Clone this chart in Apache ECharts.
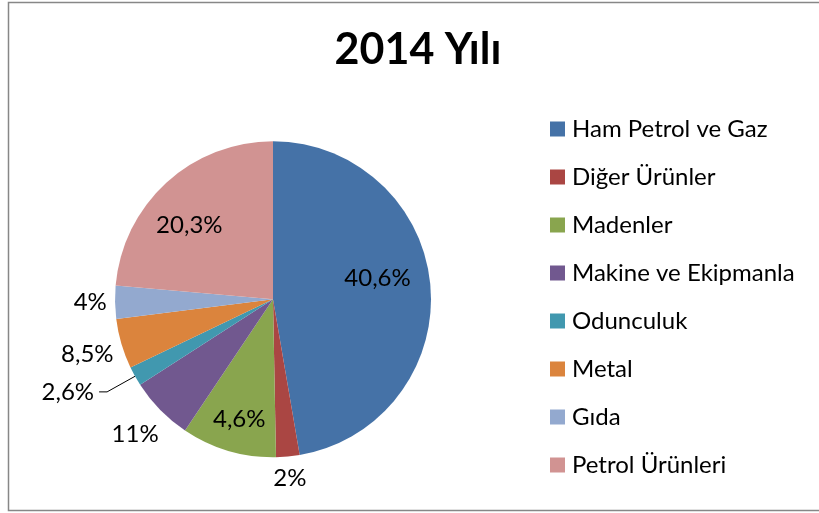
<!DOCTYPE html>
<html><head><meta charset="utf-8">
<script src="https://cdn.jsdelivr.net/npm/echarts@6/dist/echarts.min.js"></script>
<style>html,body{margin:0;padding:0;background:#fff}#c{width:819px;height:513px}</style>
</head><body><div id="c"></div>
<script>
// ---- data ----
const titleText = '2014 Yılı';
const categories = ['Ham Petrol ve Gaz', 'Diğer Ürünler', 'Madenler', 'Makine ve Ekipmanla', 'Odunculuk', 'Metal', 'Gıda', 'Petrol Ürünleri'];
// slice sizes as drawn in the picture (share of the circle, %)
const sliceValues = [47.3, 2.4, 9.7, 6.5, 2.0, 5.1, 3.4, 23.6];
// data labels as printed on the chart
const labelTexts = ['40,6%', '2%', '4,6%', '11%', '2,6%', '8,5%', '4%', '20,3%'];
const colors = ['#4572A7', '#AA4643', '#89A54E', '#71588F', '#4198AF', '#DB843D', '#93A9CF', '#D19392'];

// ---- layout ----
const CX = 273, CY = 299.3, R = 158;
const FONT = 'Lato, "Open Sans", sans-serif';
const labelPlace = [
  { inside: true, k: 0.675, dA: -6.6 },
  { gap: 8 },
  { inside: true, k: 0.79, dA: -0.7 },
  { gap: 10 },
  { leader: true },
  { gap: 7 },
  { gap: 8 },
  { inside: true, k: 0.705, dA: -6.2 }
];

const total = sliceValues.reduce((a, b) => a + b, 0);
let acc = 0;
const midAngles = sliceValues.map(v => { const m = (acc + v / 2) / total * 360; acc += v; return m; });

const data = categories.map((name, i) => {
  const item = { name: name, value: sliceValues[i], itemStyle: { color: colors[i] } };
  if (labelPlace[i].leader) {
    item.labelLine = { show: true, length: 32, length2: 8, lineStyle: { color: '#000', width: 1 } };
  } else {
    item.labelLine = { show: false };
  }
  return item;
});

const chart = echarts.init(document.getElementById('c'), null, { renderer: 'canvas' });
chart.setOption({
  animation: false,
  backgroundColor: '#fff',
  title: {
    text: titleText,
    left: 418, top: 29, textAlign: 'center', padding: 0,
    textStyle: { fontFamily: FONT, fontWeight: 'bold', fontSize: 43, color: '#000' }
  },
  legend: {
    orient: 'vertical', left: 550, top: 117, padding: 0,
    itemWidth: 15, itemHeight: 15, itemGap: 24, icon: 'rect',
    data: categories,
    textStyle: { fontFamily: FONT, fontSize: 24, lineHeight: 24, color: '#000', padding: [0, 0, 0, 2] },
    selectedMode: false
  },
  graphic: [{
    type: 'rect', silent: true, z: -1,
    shape: { x: 8.5, y: 2.5, width: 840, height: 508 },
    style: { fill: 'none', stroke: '#878787', lineWidth: 1.5 }
  }],
  series: [{
    type: 'pie',
    center: [CX, CY], radius: R,
    startAngle: 90, clockwise: true,
    avoidLabelOverlap: false,
    emphasis: { disabled: true },
    label: {
      show: true, position: 'outside',
      formatter: p => labelTexts[p.dataIndex],
      fontFamily: FONT, fontSize: 24, color: '#000',
      distanceToLabelLine: 5
    },
    labelLayout: function (params) {
      const i = params.dataIndex;
      const p = labelPlace[i];
      if (p.leader) return {};
      const th = (midAngles[i] + (p.dA || 0)) * Math.PI / 180;
      const s = Math.sin(th), c = -Math.cos(th);
      let d;
      if (p.inside) {
        d = p.k * R;
      } else {
        const w = params.labelRect.width, h = params.labelRect.height;
        d = R + p.gap + Math.abs(s) * w / 2 + Math.abs(c) * h / 2;
      }
      return { x: CX + d * s, y: CY + d * c, align: 'center', verticalAlign: 'middle' };
    },
    data: data
  }]
});
</script>
</body></html>
